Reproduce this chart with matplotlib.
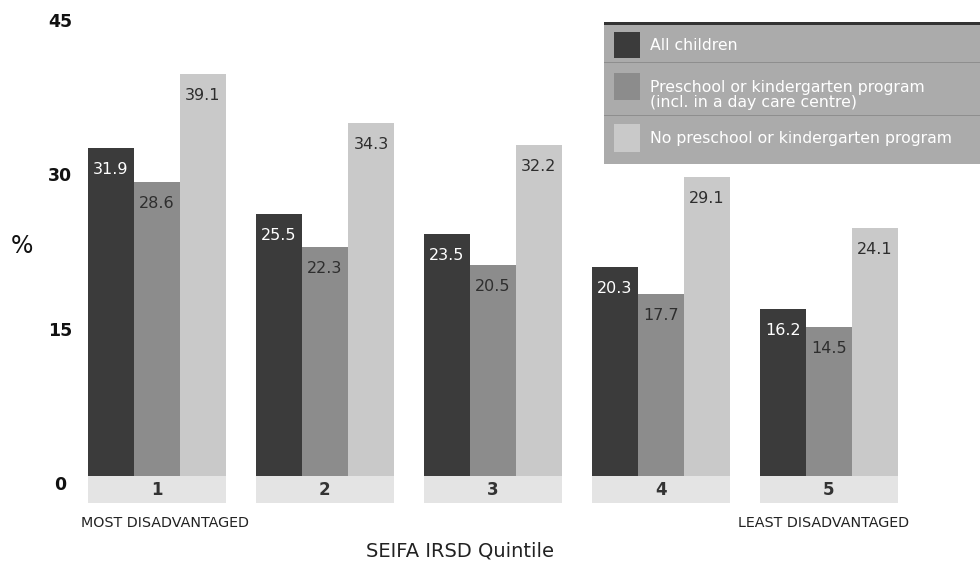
import matplotlib
matplotlib.use("Agg")
import matplotlib.pyplot as plt
import matplotlib.transforms as mtransforms
from matplotlib.patches import Rectangle
import numpy as np

quintiles = ["1", "2", "3", "4", "5"]
series_names = ["All children",
                "Preschool or kindergarten program\n(incl. in a day care centre)",
                "No preschool or kindergarten program"]
all_children = [31.9, 25.5, 23.5, 20.3, 16.2]
preschool = [28.6, 22.3, 20.5, 17.7, 14.5]
no_preschool = [39.1, 34.3, 32.2, 29.1, 24.1]
yticks = [0, 15, 30, 45]

colors = ["#3b3b3b", "#8c8c8c", "#c9c9c9"]
label_colors = ["white", "#2e2e2e", "#2e2e2e"]

plt.rcParams['font.family'] = ['DejaVu Sans']

fig = plt.figure(figsize=(9.8, 5.63), dpi=100)
fig.patch.set_facecolor("white")
ax = fig.add_axes([56/980, 1 - 507/563, 1 - 56/980, (507 - 8)/563])
ax.set_xlim(0.4, 5.9)
ax.set_ylim(-3, 45.5)
ax.axis("off")

x = np.arange(1, len(quintiles) + 1)
w = 0.275
series = [all_children, preschool, no_preschool]
for i, (vals, c, lc) in enumerate(zip(series, colors, label_colors)):
    xs = x + (i - 1) * w
    ax.bar(xs, vals, width=w, color=c, edgecolor="none", zorder=2)
    for xi, v in zip(xs, vals):
        ax.annotate(f"{v}", (xi, v), xytext=(0, -10), textcoords="offset points",
                    ha="center", va="top", color=lc, fontsize=11.5, zorder=3)

# group boxes below the baseline with quintile numbers
for xi, q in zip(x, quintiles):
    ax.add_patch(Rectangle((xi - 1.5 * w, -2.6), 3 * w, 2.6, facecolor="#e4e4e4",
                           edgecolor="none", zorder=1))
    ax.text(xi, -1.3, q, ha="center", va="center", fontsize=12, fontweight="bold",
            color="#333333")

# y tick labels
off = mtransforms.offset_copy(ax.transData, fig=fig, x=0, y=-9, units="dots")
blend = mtransforms.blended_transform_factory(fig.transFigure, off)
for t in yticks:
    ax.text(60/980, t, str(t), transform=blend, ha="center", va="center",
            fontsize=12.5, fontweight="bold", color="#111111")

fig.text(22/980, 1 - 246/563, "%", ha="center", va="center", fontsize=17, color="#111111")
fig.text(165/980, 1 - 523/563, "MOST DISADVANTAGED", ha="center", va="center",
         fontsize=10.3, color="#222222")
fig.text(824/980, 1 - 523/563, "LEAST DISADVANTAGED", ha="center", va="center",
         fontsize=10.3, color="#222222")
fig.text(460/980, 1 - 551/563, "SEIFA IRSD Quintile", ha="center", va="center",
         fontsize=14, color="#222222")

# legend drawn in figure coordinates
def fy(py):
    return 1 - py / 563

def fx(px):
    return px / 980

fig.patches.append(Rectangle((fx(604), fy(164)), fx(376), (164 - 22) / 563,
                             transform=fig.transFigure, facecolor="#ababab",
                             edgecolor="none", zorder=1))
fig.patches.append(Rectangle((fx(604), fy(25)), fx(376), 3 / 563,
                             transform=fig.transFigure, facecolor="#333333",
                             edgecolor="none", zorder=2))
for sep in (63, 116):
    fig.patches.append(Rectangle((fx(604), fy(sep)), fx(376), 1 / 563,
                                 transform=fig.transFigure, facecolor="#8e8e8e",
                                 edgecolor="none", zorder=2))
swatch_y = [(32, 58), (73, 100), (124, 152)]
text_y = [45, 95, 138]
for (y0, y1), ty, c, name in zip(swatch_y, text_y, colors, series_names):
    fig.patches.append(Rectangle((fx(614), fy(y1)), fx(26), (y1 - y0) / 563,
                                 transform=fig.transFigure, facecolor=c,
                                 edgecolor="none", zorder=3))
    fig.text(fx(650), fy(ty), name, ha="left", va="center", fontsize=11.3,
             color="white", linespacing=1.0)

fig.savefig("out.png", dpi=100, facecolor="white")
